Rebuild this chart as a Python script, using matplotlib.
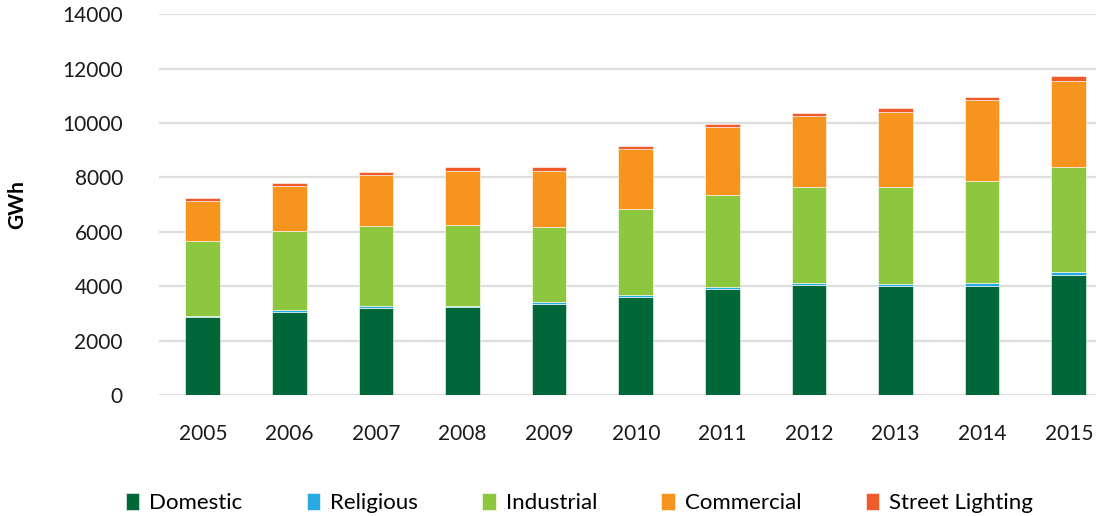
"""Electricity consumption by sector, stacked bars 2005-2015."""
import matplotlib.pyplot as plt
import numpy as np

years = ["2005", "2006", "2007", "2008", "2009", "2010",
         "2011", "2012", "2013", "2014", "2015"]
domestic = [2880, 3070, 3210, 3250, 3340, 3610, 3900, 4040, 4010, 4010, 4420]
religious = [40, 50, 75, 40, 85, 60, 75, 75, 55, 100, 100]
industrial = [2740, 2920, 2925, 2960, 2740, 3155, 3365, 3525, 3595, 3755, 3855]
commercial = [1460, 1660, 1865, 2000, 2085, 2220, 2500, 2615, 2750, 2970, 3175]
street_lighting = [125, 110, 135, 120, 125, 120, 135, 120, 135, 120, 175]

series = [
    ("Domestic", domestic, "#006838"),
    ("Religious", religious, "#27aae1"),
    ("Industrial", industrial, "#8dc63f"),
    ("Commercial", commercial, "#f7941d"),
    ("Street Lighting", street_lighting, "#f15a29"),
]

plt.rcParams["font.family"] = ["Lato", "DejaVu Sans"]

fig = plt.figure(figsize=(10.99, 5.16), dpi=100)
ax = fig.add_axes([0.1447, 0.2345, 0.853, 0.7378])

x = np.arange(len(years))
bottom = np.zeros(len(years))
for name, values, color in series:
    ax.bar(x, values, width=0.40, bottom=bottom, color=color, label=name,
           edgecolor="white", linewidth=0.4, zorder=3)
    bottom += np.array(values)

ax.set_ylim(0, 14000)
ax.set_xlim(-0.505, 10.32)
ax.set_yticks(range(0, 14001, 2000))
ax.set_xticks(x)
ax.set_xticklabels(years)
ax.yaxis.grid(True, color="#dedede", linewidth=1.6, zorder=0)
ax.set_axisbelow(True)
for spine in ax.spines.values():
    spine.set_visible(False)
ax.tick_params(axis="both", length=0, labelsize=15, colors="#1a1a1a")
ax.tick_params(axis="y", pad=26)
ax.tick_params(axis="x", pad=21)
ax.set_ylabel("GWh", fontsize=15, fontweight="bold")
ax.yaxis.set_label_coords(-0.141, 0.5)

fig.legend(loc="center", bbox_to_anchor=(0.527, 0.025), ncol=5, frameon=False,
           fontsize=16, handlelength=0.6, handleheight=0.8, handletextpad=0.45,
           columnspacing=2.9)

fig.savefig("out.png", dpi=100)
